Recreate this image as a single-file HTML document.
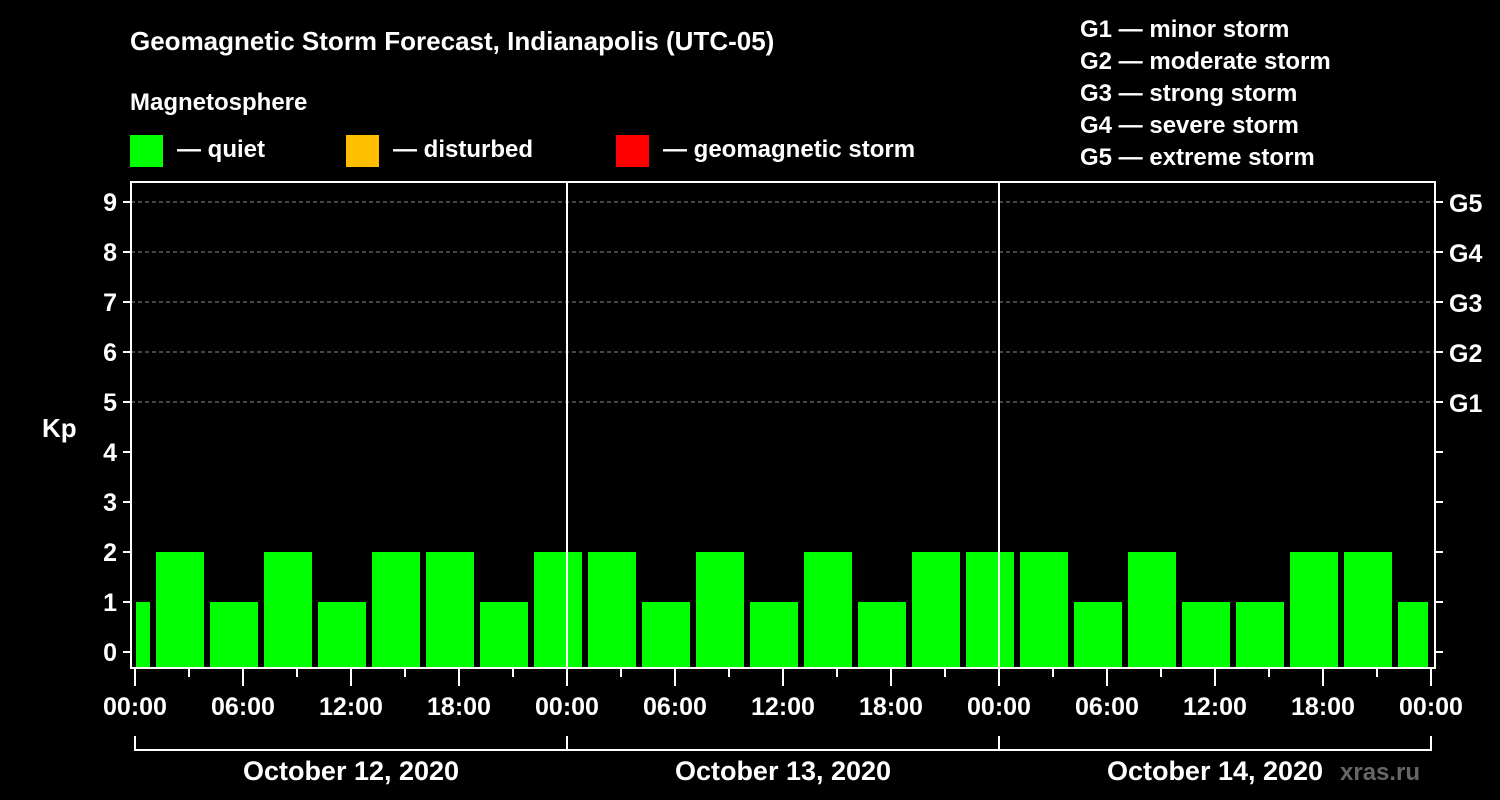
<!DOCTYPE html>
<html><head><meta charset="utf-8"><style>
body{margin:0;background:#000;}
svg{display:block;font-family:"Liberation Sans",Arial,sans-serif;font-weight:bold;fill:#fff}
</style></head><body>
<svg id="c" width="1500" height="800" viewBox="0 0 1500 800">
<rect width="1500" height="800" fill="#000"/>
<text x="130" y="50" font-size="26">Geomagnetic Storm Forecast, Indianapolis (UTC-05)</text>
<text x="130" y="110" font-size="24">Magnetosphere</text>
<g><rect x="130" y="135" width="33" height="32" fill="#00ff00"/><text x="177" y="157" font-size="24">— quiet</text></g>
<g><rect x="346" y="135" width="33" height="32" fill="#ffbf00"/><text x="393" y="157" font-size="24">— disturbed</text></g>
<g><rect x="616" y="135" width="33" height="32" fill="#ff0000"/><text x="663" y="157" font-size="24">— geomagnetic storm</text></g>
<g font-size="24">
<text x="1080" y="37">G1 — minor storm</text>
<text x="1080" y="69">G2 — moderate storm</text>
<text x="1080" y="101">G3 — strong storm</text>
<text x="1080" y="133">G4 — severe storm</text>
<text x="1080" y="165">G5 — extreme storm</text>
</g>
<text x="42" y="437" font-size="26">Kp</text>
<text x="1340" y="780" font-size="24" fill="#666" style="fill:#666">xras.ru</text>
<g id="grid"></g><g id="bars"></g><g id="axes"></g>
</svg>
<script>
const values=[1,2,1,2,1,2,2,1,2,2,1,2,1,2,1,2,2,2,1,2,1,1,2,2,1];
const yTicks=[0,1,2,3,4,5,6,7,8,9];
const gLabels=["G1","G2","G3","G4","G5"];
const timeLabels=["00:00","06:00","12:00","18:00","00:00","06:00","12:00","18:00","00:00","06:00","12:00","18:00","00:00"];
const dayLabels=["October 12, 2020","October 13, 2020","October 14, 2020"];
const NS="http://www.w3.org/2000/svg";
const x0=135,hourPx=18,L=131,R=1435,T=182,B=668;
const X=h=>x0+h*hourPx, Y=v=>652-50*v;
function el(tag,a,p){const e=document.createElementNS(NS,tag);for(const k in a)e.setAttribute(k,a[k]);p.appendChild(e);return e;}
const grid=document.getElementById('grid'),bars=document.getElementById('bars'),axes=document.getElementById('axes');
// grid
for(let v=5;v<=9;v++){const l=el('line',{x1:L,x2:R,y1:Y(v),y2:Y(v),stroke:'#888','stroke-dasharray':'4,3','stroke-width':1},grid);

}
// bars: each bar covers 3h interval starting at hour -2 + 3i (local)
values.forEach((v,i)=>{let s=X(-2+3*i)+3,e=X(1+3*i)-3;s=Math.max(s,X(0)+1);e=Math.min(e,X(72)-3);
const r=el('rect',{x:s,y:Y(v),width:e-s,height:B-1-Y(v),fill:v>=5?'#ff0000':v>=4?'#ffbf00':'#00ff00'},bars);

});
// frame
const f=el('rect',{x:L,y:T,width:R-L,height:B-T,fill:'none',stroke:'#fff','stroke-width':2},axes);


[24,48].forEach(h=>{const l=el('line',{x1:X(h),x2:X(h),y1:T,y2:B,stroke:'#fff','stroke-width':2},axes);

});
yTicks.forEach(v=>{el('line',{x1:L-8,x2:L,y1:Y(v),y2:Y(v),stroke:'#fff','stroke-width':2},axes);
el('line',{x1:R,x2:R+8,y1:Y(v),y2:Y(v),stroke:'#fff','stroke-width':2},axes);
const t=el('text',{x:L-14,y:Y(v)+9,'font-size':25,'text-anchor':'end'},axes);t.textContent=v;

});
gLabels.forEach((g,i)=>{const t=el('text',{x:1449,y:Y(5+i)+10,'font-size':25},axes);t.textContent=g;

});
for(let h=0;h<=72;h+=3){const maj=h%6==0;el('line',{x1:X(h),x2:X(h),y1:B,y2:B+(maj?18:9),stroke:'#fff','stroke-width':2},axes);}
timeLabels.forEach((s,i)=>{const t=el('text',{x:X(6*i),y:715,'font-size':25,'text-anchor':'middle'},axes);t.textContent=s;

});
const br=el('path',{d:`M${X(0)},736V750H${X(72)}V736M${X(24)},736V750M${X(48)},736V750`,fill:'none',stroke:'#fff','stroke-width':2},axes);


dayLabels.forEach((s,i)=>{const t=el('text',{x:X(24*i+12),y:780,'font-size':27,'text-anchor':'middle'},axes);t.textContent=s;

});
</script>
</body></html>
